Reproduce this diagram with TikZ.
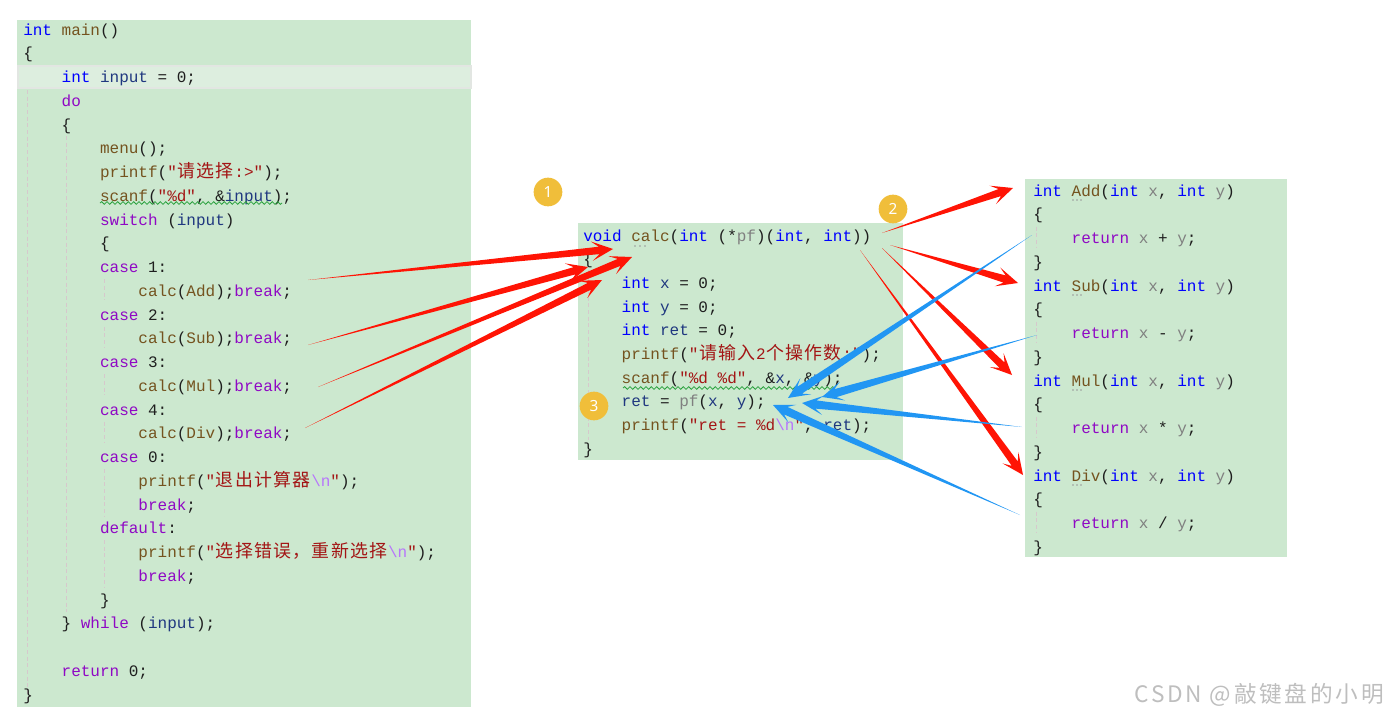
\documentclass[tikz,border=0pt]{standalone}
\usepackage{fontspec}
\usetikzlibrary{calc,decorations.pathmorphing}
\newfontfamily\codefont[WordSpace={1,0,0}]{Liberation Mono}
\newfontfamily\cjkfont[Scale=1.12]{Noto Sans CJK SC}
\newfontfamily\badgefont{Noto Sans}
\newfontfamily\wmfont[LetterSpace=12]{Noto Sans CJK SC}
\definecolor{bggreen}{RGB}{204,232,207}
\definecolor{rowhl}{RGB}{221,238,223}
\definecolor{rowbd}{RGB}{226,230,226}
\definecolor{kwblue}{RGB}{0,0,255}
\definecolor{ctpurple}{RGB}{143,8,196}
\definecolor{fnbrown}{RGB}{116,83,31}
\definecolor{vrnavy}{RGB}{31,55,127}
\definecolor{strred}{RGB}{163,21,21}
\definecolor{escpurple}{RGB}{183,118,251}
\definecolor{pagray}{RGB}{128,128,128}
\definecolor{codetext}{RGB}{30,30,30}
\definecolor{arrred}{RGB}{255,20,5}
\definecolor{arrblue}{RGB}{33,150,243}
\definecolor{badgey}{RGB}{240,190,58}
\definecolor{guide}{RGB}{214,200,204}
\definecolor{wmgray}{RGB}{190,190,190}
\definecolor{squig}{RGB}{40,160,60}
\newcommand\KW[1]{\textcolor{kwblue}{#1}}
\newcommand\CT[1]{\textcolor{ctpurple}{#1}}
\newcommand\FN[1]{\textcolor{fnbrown}{#1}}
\newcommand\VR[1]{\textcolor{vrnavy}{#1}}
\newcommand\ST[1]{\textcolor{strred}{#1}}
\newcommand\ES[1]{\textcolor{escpurple}{#1}}
\newcommand\PA[1]{\textcolor{pagray}{#1}}
\def\zhloop#1{\ifx#1\relax\else\makebox[1.2em][c]{\cjkfont#1}\expandafter\zhloop\fi}
\newcommand\zh[1]{\zhloop#1\relax}
\tikzset{
  codeline/.style={anchor=base west, inner sep=0pt, text=codetext, font={\codefont\fontsize{12pt}{14pt}\selectfont}},
  badge/.style={circle, fill=badgey, minimum size=21.5pt, inner sep=0pt, text=white, font={\badgefont\fontsize{11.5pt}{12pt}\selectfont}},
  guideline/.style={draw=guide, line width=0.6pt, dash pattern=on 3pt off 2pt},
  squiggle/.style={draw=squig, line width=0.6pt, decorate, decoration={snake, amplitude=1pt, segment length=4pt}},
  dotmark/.style={fill=pagray!80}
}
\newcommand\Lr[4]{\node[codeline] (#1) at ({23+9.6*#2},{35+23.75*#3}) {#4};}
\newcommand\Mr[4]{\node[codeline] (#1) at ({583+9.6*#2},{241+23.7*#3}) {#4};}
\newcommand\Rr[4]{\node[codeline] (#1) at ({1033+9.6*#2},{196+23.75*#3}) {#4};}
% tapered connector: #1 colour, #2 start, #3 tip, #4 shaft half-width at head
\newcommand\fatarrow[4]{%
  \coordinate (fa-n) at ($(#3)!10.5pt!(#2)$);
  \coordinate (fa-w) at ($(#3)!16pt!(#2)$);
  \fill[#1] (#2) -- ($(fa-n)!#4!90:(#3)$) -- ($(fa-w)!7.3pt!90:(#3)$) -- (#3)
     -- ($(fa-w)!7.3pt!-90:(#3)$) -- ($(fa-n)!#4!-90:(#3)$) -- cycle;
}
\begin{document}
\begin{tikzpicture}[x=0.75pt,y=-0.75pt]
\useasboundingbox (0,0) rectangle (1388,721);
% boxes
\fill[bggreen] (17,20) rectangle (471,707);
\fill[bggreen] (578,223) rectangle (903,460);
\fill[bggreen] (1025,179) rectangle (1287,557);
\filldraw[fill=rowhl, draw=rowbd, line width=1pt] (18,66) rectangle (471,88);
% indent guides
\draw[guideline] (27,90) -- (27,700);
\draw[guideline] (66,136) -- (66,612);
\foreach \r in {11,13,15,17} {\draw[guideline] (104,{35+23.75*\r-17}) -- (104,{35+23.75*\r+4});}
\draw[guideline] (104,469) -- (104,517);
\draw[guideline] (104,540) -- (104,588);
\draw[guideline] (588,270) -- (588,440);
\foreach \r in {2,6,10,14} {\draw[guideline] (1036,{196+23.75*\r-17}) -- (1036,{196+23.75*\r+4});}
% left code
\Lr{L0}{0}{0}{\KW{int} \FN{main}()}
\Lr{L1}{0}{1}{\{}
\Lr{L2}{4}{2}{\KW{int} \VR{input} = 0;}
\Lr{L3}{4}{3}{\CT{do}}
\Lr{L4}{4}{4}{\{}
\Lr{L5}{8}{5}{\FN{menu}();}
\Lr{L6}{8}{6}{\FN{printf}(\ST{"\zh{请选择}:>"});}
\Lr{L7}{8}{7}{\FN{scanf}(\ST{"\%d"}, \&\VR{input});}
\Lr{L8}{8}{8}{\CT{switch} (\VR{input})}
\Lr{L9}{8}{9}{\{}
\Lr{L10}{8}{10}{\CT{case} 1:}
\Lr{L11}{12}{11}{\FN{calc}(\FN{Add});\CT{break};}
\Lr{L12}{8}{12}{\CT{case} 2:}
\Lr{L13}{12}{13}{\FN{calc}(\FN{Sub});\CT{break};}
\Lr{L14}{8}{14}{\CT{case} 3:}
\Lr{L15}{12}{15}{\FN{calc}(\FN{Mul});\CT{break};}
\Lr{L16}{8}{16}{\CT{case} 4:}
\Lr{L17}{12}{17}{\FN{calc}(\FN{Div});\CT{break};}
\Lr{L18}{8}{18}{\CT{case} 0:}
\Lr{L19}{12}{19}{\FN{printf}(\ST{"\zh{退出计算器}\ES{\textbackslash n}"});}
\Lr{L20}{12}{20}{\CT{break};}
\Lr{L21}{8}{21}{\CT{default}:}
\Lr{L22}{12}{22}{\FN{printf}(\ST{"\zh{选择错误，重新选择}\ES{\textbackslash n}"});}
\Lr{L23}{12}{23}{\CT{break};}
\Lr{L24}{8}{24}{\}}
\Lr{L25}{4}{25}{\} \CT{while} (\VR{input});}
\Lr{L27}{4}{27}{\CT{return} 0;}
\Lr{L28}{0}{28}{\}}
\draw[squiggle] (100,203) -- (282,203);
% middle code
\Mr{M0}{0}{0}{\KW{void} \FN{calc}(\KW{int} (*\PA{pf})(\KW{int}, \KW{int}))}
\Mr{M1}{0}{1}{\{}
\Mr{M2}{4}{2}{\KW{int} \VR{x} = 0;}
\Mr{M3}{4}{3}{\KW{int} \VR{y} = 0;}
\Mr{M4}{4}{4}{\KW{int} \VR{ret} = 0;}
\Mr{M5}{4}{5}{\FN{printf}(\ST{"\zh{请输入}2\zh{个操作数}:"});}
\Mr{M6}{4}{6}{\FN{scanf}(\ST{"\%d \%d"}, \&\VR{x}, \&\VR{y});}
\Mr{M7}{4}{7}{\VR{ret} = \PA{pf}(\VR{x}, \VR{y});}
\Mr{M8}{4}{8}{\FN{printf}(\ST{"ret = \%d\ES{\textbackslash n}"}, \VR{ret});}
\Mr{M9}{0}{9}{\}}
\draw[squiggle] (623,388) -- (835,388);
\foreach \dx in {635,640,645} {\fill[dotmark] (\dx,246) circle (0.6pt);}
% right code
\Rr{R0}{0}{0}{\KW{int} \FN{Add}(\KW{int} \PA{x}, \KW{int} \PA{y})}
\Rr{R1}{0}{1}{\{}
\Rr{R2}{4}{2}{\CT{return} \PA{x} + \PA{y};}
\Rr{R3}{0}{3}{\}}
\Rr{R4}{0}{4}{\KW{int} \FN{Sub}(\KW{int} \PA{x}, \KW{int} \PA{y})}
\Rr{R5}{0}{5}{\{}
\Rr{R6}{4}{6}{\CT{return} \PA{x} - \PA{y};}
\Rr{R7}{0}{7}{\}}
\Rr{R8}{0}{8}{\KW{int} \FN{Mul}(\KW{int} \PA{x}, \KW{int} \PA{y})}
\Rr{R9}{0}{9}{\{}
\Rr{R10}{4}{10}{\CT{return} \PA{x} * \PA{y};}
\Rr{R11}{0}{11}{\}}
\Rr{R12}{0}{12}{\KW{int} \FN{Div}(\KW{int} \PA{x}, \KW{int} \PA{y})}
\Rr{R13}{0}{13}{\{}
\Rr{R14}{4}{14}{\CT{return} \PA{x} / \PA{y};}
\Rr{R15}{0}{15}{\}}
\foreach \r in {0,4,8,12} {\foreach \dx in {1073,1077,1081} {\fill[dotmark] (\dx,{200+23.75*\r}) circle (0.6pt);}}
% arrow end points
\coordinate (sAdd) at (308,280); \coordinate (tAdd) at (613,249);
\coordinate (sSub) at (308,345); \coordinate (tSub) at (588,267);
\coordinate (sMul) at (318,387); \coordinate (tMul) at (632,257);
\coordinate (sDiv) at (305,428); \coordinate (tDiv) at (602,280);
\coordinate (c1) at (882,233); \coordinate (fAdd) at (1013,188);
\coordinate (c2) at (890,245); \coordinate (fSub) at (1018,283);
\coordinate (c3) at (882,248); \coordinate (fMul) at (1012,375);
\coordinate (c4) at (860,250); \coordinate (fDiv) at (1023,475);
\coordinate (bAdd) at (1032,235); \coordinate (pAdd) at (788,398);
\coordinate (bSub) at (1037,335); \coordinate (pSub) at (822,397);
\coordinate (bMul) at (1022,427); \coordinate (pMul) at (802,403);
\coordinate (bDiv) at (1020,515); \coordinate (pDiv) at (773,405);
\fatarrow{arrred}{sAdd}{tAdd}{2.8pt}
\fatarrow{arrred}{sSub}{tSub}{2.8pt}
\fatarrow{arrred}{sMul}{tMul}{2.8pt}
\fatarrow{arrred}{sDiv}{tDiv}{2.8pt}
\fatarrow{arrred}{c1}{fAdd}{2.8pt}
\fatarrow{arrred}{c2}{fSub}{2.8pt}
\fatarrow{arrred}{c3}{fMul}{2.8pt}
\fatarrow{arrred}{c4}{fDiv}{2.8pt}
\fatarrow{arrblue}{bAdd}{pAdd}{3.1pt}
\fatarrow{arrblue}{bSub}{pSub}{3.1pt}
\fatarrow{arrblue}{bMul}{pMul}{3.1pt}
\fatarrow{arrblue}{bDiv}{pDiv}{3.1pt}
% badges
\node[badge] (b1) at (548,192) {1};
\node[badge] (b2) at (893,209) {2};
\node[badge] (b3) at (594,406) {3};
% watermark
\node[anchor=base east, inner sep=0pt, text=wmgray, font={\wmfont\fontsize{17pt}{19pt}\selectfont}] (wm) at (1384,702) {CSDN @敲键盘的小明};
\end{tikzpicture}
\end{document}
